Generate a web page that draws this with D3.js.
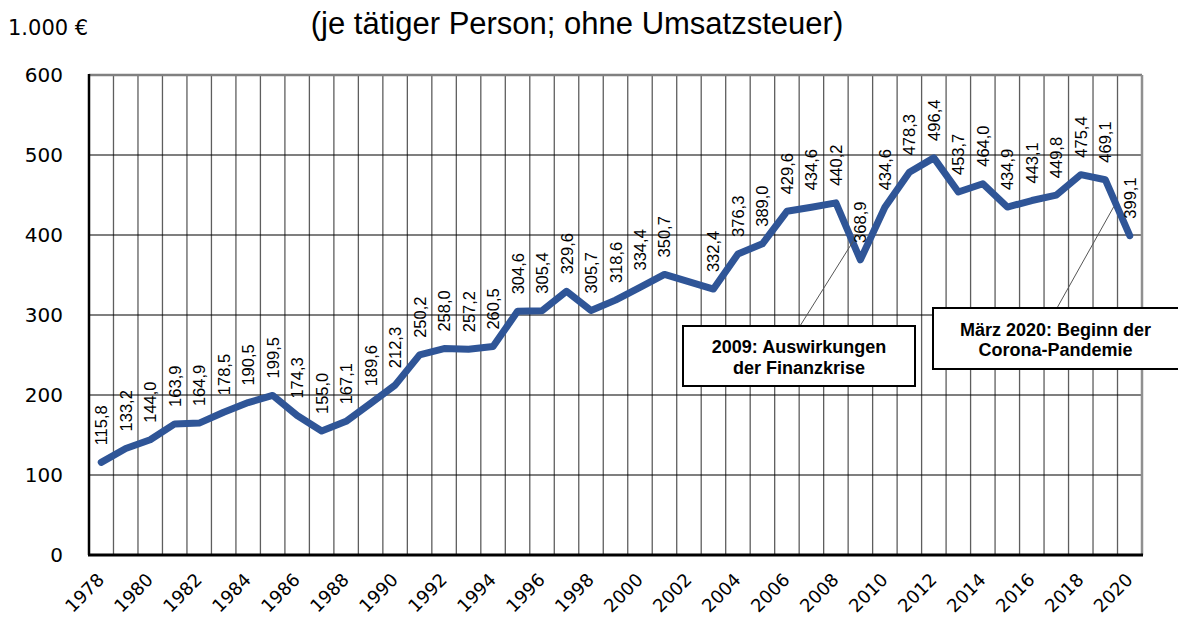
<!DOCTYPE html>
<html>
<head>
<meta charset="utf-8">
<script src="https://cdn.jsdelivr.net/npm/d3@7"></script>
<style>
  body { margin: 0; background: #fff; }
  svg { display: block; }
</style>
</head>
<body>
<div id="chart"></div>
<script>
// Umsatz je tätiger Person, 1.000 €
const years = d3.range(1978, 2021);
const values = [
  115.8, 133.2, 144.0, 163.9, 164.9, 178.5, 190.5, 199.5, 174.3, 155.0,
  167.1, 189.6, 212.3, 250.2, 258.0, 257.2, 260.5, 304.6, 305.4, 329.6,
  305.7, 318.6, 334.4, 350.7, null, 332.4, 376.3, 389.0, 429.6, 434.6,
  440.2, 368.9, 434.6, 478.3, 496.4, 453.7, 464.0, 434.9, 443.1, 449.8,
  475.4, 469.1, 399.1
];
const yTicks = [0, 100, 200, 300, 400, 500, 600];
const xTickYears = years.filter(y => y % 2 === 0);
const notes = [
  { year: 2009, lines: ['2009: Auswirkungen', 'der Finanzkrise'] },
  { year: 2020, lines: ['März 2020: Beginn der', 'Corona-Pandemie'] }
];

const width = 1178, height = 617;
const margin = [75, 62, 89, 36]; // top, bottom, left, right

const svg = d3.select('#chart').append('svg')
  .attr('width', width).attr('height', height);

const x = d3.scaleBand(years, [margin[2], width - margin[3]]);
const y = d3.scaleLinear([0, 600], [height - margin[1], margin[0]]);
const cx = yr => x(yr) + x.bandwidth() / 2;

const data = years.map((yr, i) => ({ year: yr, value: values[i] }))
  .filter(d => d.value != null);

// vertical grid at category boundaries
svg.append('g').selectAll('line')
  .data(years.slice(1))
  .join('line')
  .attr('x1', d => x(d)).attr('x2', d => x(d))
  .attr('y1', y(600)).attr('y2', y(0))
  .attr('stroke', '#5e5e5e').attr('stroke-width', 1.3);

// horizontal grid
svg.append('g').selectAll('line')
  .data(yTicks.filter(t => t > 0 && t < 600))
  .join('line')
  .attr('x1', x.range()[0]).attr('x2', x.range()[1])
  .attr('y1', d => y(d)).attr('y2', d => y(d))
  .attr('stroke', '#000').attr('stroke-width', 1.2);

// frame
svg.append('line')
  .attr('x1', x.range()[0]).attr('x2', x.range()[1])
  .attr('y1', y(600)).attr('y2', y(600))
  .attr('stroke', '#808080').attr('stroke-width', 2.5);
svg.append('line')
  .attr('x1', x.range()[1]).attr('x2', x.range()[1])
  .attr('y1', y(600)).attr('y2', y(0))
  .attr('stroke', '#909090').attr('stroke-width', 2.5);
svg.append('line')
  .attr('x1', x.range()[0]).attr('x2', x.range()[0])
  .attr('y1', y(600) - 1).attr('y2', y(0))
  .attr('stroke', '#000').attr('stroke-width', 2.5);
svg.append('line')
  .attr('x1', x.range()[0] - 1).attr('x2', x.range()[1] + 1)
  .attr('y1', y(0)).attr('y2', y(0))
  .attr('stroke', '#000').attr('stroke-width', 3);

// y axis labels
svg.append('g').selectAll('text')
  .data(yTicks)
  .join('text')
  .attr('x', x.range()[0] - 26).attr('y', d => y(d))
  .attr('dy', '0.36em')
  .attr('text-anchor', 'end')
  .style('font', '20px "DejaVu Sans"')
  .text(d => d);

// x axis labels
svg.append('g').selectAll('text')
  .data(xTickYears)
  .join('text')
  .attr('transform', d => `translate(${cx(d) + 4},${y(0) + 26})rotate(-45)`)
  .attr('text-anchor', 'end')
  .style('font', '18px "DejaVu Sans"')
  .text(d => d);

// unit and title
svg.append('text')
  .attr('x', 8).attr('y', 35)
  .style('font', '21px "DejaVu Sans"')
  .text('1.000 €');
svg.append('text')
  .attr('x', 577).attr('y', 34)
  .attr('text-anchor', 'middle')
  .style('font', '31px "Liberation Sans"')
  .text('(je tätiger Person; ohne Umsatzsteuer)');

// line
const line = d3.line().x(d => cx(d.year)).y(d => y(d.value));
svg.append('path')
  .datum(data)
  .attr('d', line)
  .attr('fill', 'none')
  .attr('stroke', '#2f5597')
  .attr('stroke-width', 7)
  .attr('stroke-linejoin', 'round')
  .attr('stroke-linecap', 'round');

// value labels
svg.append('g').selectAll('text')
  .data(data)
  .join('text')
  .attr('transform', d => `translate(${cx(d.year) + 6},${y(d.value) - 17})rotate(-90)`)
  .style('font', '16.5px "Liberation Sans"')
  .text(d => d3.format('.1f')(d.value).replace('.', ','));

// annotations
const boxes = [
  { x0: 683, x1: 915, y0: 326, y1: 386, from: [800, 326], to: [-7, -19] },
  { x0: 933, x1: 1180, y0: 308, y1: 369, from: [1057, 308], to: [-16, -29] }
];
notes.forEach((n, i) => {
  const b = boxes[i];
  const v = values[years.indexOf(n.year)];
  svg.append('line')
    .attr('x1', b.from[0]).attr('y1', b.from[1])
    .attr('x2', cx(n.year) + b.to[0]).attr('y2', y(v) + b.to[1])
    .attr('stroke', '#555').attr('stroke-width', 1);
  svg.append('rect')
    .attr('x', b.x0).attr('y', b.y0)
    .attr('width', b.x1 - b.x0).attr('height', b.y1 - b.y0)
    .attr('fill', '#fff').attr('stroke', '#000').attr('stroke-width', 2);
  svg.append('text')
    .attr('x', (b.x0 + Math.min(b.x1, width)) / 2)
    .attr('y', (b.y0 + b.y1) / 2 - 3)
    .attr('text-anchor', 'middle')
    .style('font', 'bold 18px "Liberation Sans"')
    .selectAll('tspan')
    .data(n.lines)
    .join('tspan')
    .attr('x', (b.x0 + Math.min(b.x1, width)) / 2)
    .attr('dy', (d, j) => j === 0 ? '0' : '1.15em')
    .text(d => d);
});
</script>
</body>
</html>
